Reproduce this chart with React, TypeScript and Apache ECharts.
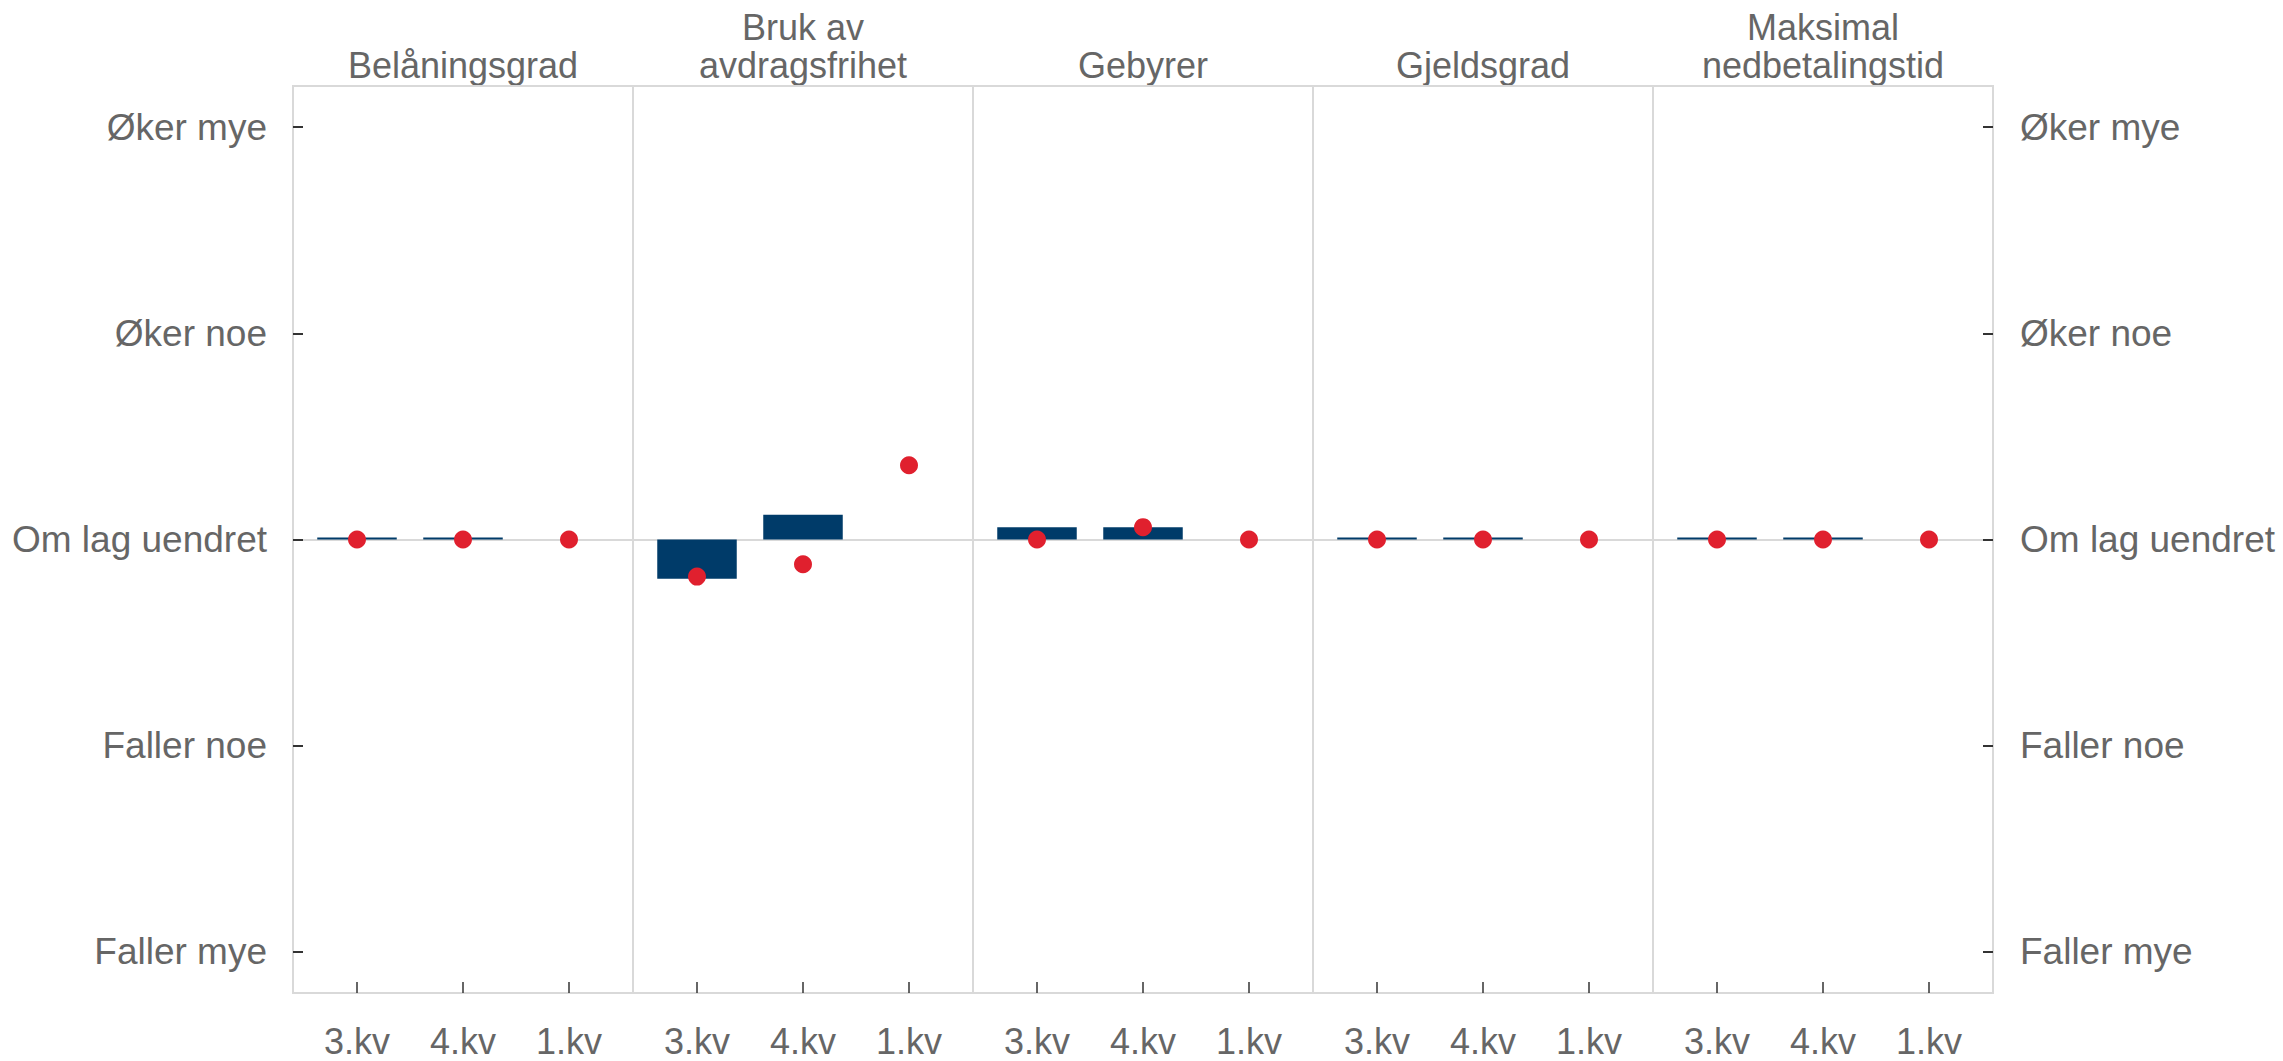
import React, { useEffect, useRef } from "react";
import * as echarts from "echarts";

// ---- Data ----
const quarters = ["3.kv", "4.kv", "1.kv"];
const panelTitles = [
  "Belåningsgrad",
  "Bruk av\navdragsfrihet",
  "Gebyrer",
  "Gjeldsgrad",
  "Maksimal\nnedbetalingstid",
];
const levelValues = [2, 1, 0, -1, -2];
const levelLabels = ["Øker mye", "Øker noe", "Om lag uendret", "Faller noe", "Faller mye"];

// Bars (dark blue)
const barsBelaningsgrad = [0, 0, null];
const barsAvdragsfrihet = [-0.19, 0.12, null];
const barsGebyrer = [0.06, 0.06, null];
const barsGjeldsgrad = [0, 0, null];
const barsNedbetalingstid = [0, 0, null];

// Dots (red)
const dotsBelaningsgrad = [0, 0, 0];
const dotsAvdragsfrihet = [-0.18, -0.12, 0.36];
const dotsGebyrer = [0, 0.06, 0];
const dotsGjeldsgrad = [0, 0, 0];
const dotsNedbetalingstid = [0, 0, 0];

const barData = [barsBelaningsgrad, barsAvdragsfrihet, barsGebyrer, barsGjeldsgrad, barsNedbetalingstid];
const dotData = [dotsBelaningsgrad, dotsAvdragsfrihet, dotsGebyrer, dotsGjeldsgrad, dotsNedbetalingstid];

// ---- Layout / style ----
const PANEL_LEFT = 293;
const PANEL_W = 340;
const TOP = 86;
const PLOT_H = 907;
const INSET = 11;
const Y_MIN = -2.2;
const Y_MAX = 2.2;
const FONT = 'Arial, "Liberation Sans", Helvetica, sans-serif';
const TEXT_COLOR = "#666666";
const GRID_COLOR = "#d9d9d9";
const TICK_COLOR = "#333333";
const BAR_COLOR = "#003b69";
const DOT_COLOR = "#e0202e";

function labelFor(v: number) {
  const idx = levelValues.indexOf(Math.round(v));
  return idx >= 0 ? levelLabels[idx] : "";
}

export default function App() {
  const ref = useRef<HTMLDivElement>(null);

  useEffect(() => {
    if (!ref.current) return;
    const chart = echarts.init(ref.current, undefined, { renderer: "svg" });
    const n = panelTitles.length;

    const grids: any[] = [];
    const xAxes: any[] = [];
    const yAxes: any[] = [];
    const series: any[] = [];
    const graphics: any[] = [];

    // data grids 0..n-1
    for (let i = 0; i < n; i++) {
      grids.push({
        left: PANEL_LEFT + PANEL_W * i + INSET,
        top: TOP,
        width: PANEL_W - 2 * INSET,
        height: PLOT_H,
        show: false,
      });
      xAxes.push({
        gridIndex: i,
        type: "category",
        data: quarters,
        position: "bottom",
        axisLine: { show: false, onZero: false },
        axisTick: {
          show: true,
          inside: true,
          alignWithLabel: true,
          length: 11,
          lineStyle: { color: TICK_COLOR, width: 1.5 },
        },
        axisLabel: { fontSize: 36, fontFamily: FONT, color: TEXT_COLOR, margin: 30 },
        splitLine: { show: false },
      });
      yAxes.push({
        gridIndex: i,
        type: "value",
        min: Y_MIN,
        max: Y_MAX,
        show: false,
      });
      series.push({
        type: "bar",
        xAxisIndex: i,
        yAxisIndex: i,
        data: barData[i],
        barWidth: "75%",
        barMinHeight: 2,
        itemStyle: { color: BAR_COLOR },
        z: 2,
      });
      series.push({
        type: "scatter",
        xAxisIndex: i,
        yAxisIndex: i,
        data: dotData[i],
        symbol: "circle",
        symbolSize: 18,
        itemStyle: { color: DOT_COLOR, opacity: 1 },
        z: 3,
      });
      graphics.push({
        type: "text",
        x: PANEL_LEFT + PANEL_W * (i + 0.5),
        y: 84,
        style: {
          text: panelTitles[i],
          fontSize: 36,
          fontFamily: FONT,
          fill: TEXT_COLOR,
          textAlign: "center",
          textVerticalAlign: "bottom",
          align: "center",
          verticalAlign: "bottom",
          lineHeight: 38,
        },
      });
    }

    // frame grids n..2n-1
    for (let i = 0; i < n; i++) {
      const g = n + i;
      grids.push({
        left: PANEL_LEFT + PANEL_W * i,
        top: TOP,
        width: PANEL_W,
        height: PLOT_H,
        show: true,
        borderColor: GRID_COLOR,
        borderWidth: 2,
        backgroundColor: "transparent",
        z: 0,
      });
      xAxes.push({ gridIndex: g, type: "value", min: 0, max: 1, show: false });
      yAxes.push({
        gridIndex: g,
        type: "value",
        min: Y_MIN,
        max: Y_MAX,
        interval: 2.2,
        axisLine: { show: false },
        axisTick: { show: false },
        axisLabel: { show: false },
        splitLine: { show: true, lineStyle: { color: GRID_COLOR, width: 2 } },
      });
    }

    const labelAxis = (gridIndex: number, position: string, margin: number) => ({
      gridIndex,
      type: "value",
      position,
      min: Y_MIN,
      max: Y_MAX,
      axisLine: { show: false },
      axisTick: {
        show: true,
        inside: true,
        length: 10,
        customValues: levelValues,
        lineStyle: { color: TICK_COLOR, width: 2 },
      },
      axisLabel: {
        show: true,
        customValues: levelValues,
        formatter: (v: number) => labelFor(v),
        fontSize: 37,
        fontFamily: FONT,
        color: TEXT_COLOR,
        margin,
      },
      splitLine: { show: false },
    });
    yAxes.push(labelAxis(n, "left", 26));
    yAxes.push(labelAxis(2 * n - 1, "right", 27));

    chart.setOption({
      animation: false,
      backgroundColor: "#ffffff",
      grid: grids,
      xAxis: xAxes,
      yAxis: yAxes,
      series,
      graphic: { elements: graphics },
    });

    return () => chart.dispose();
  }, []);

  return (
    <div
      ref={ref}
      style={{ position: "fixed", left: 0, top: 0, width: 2283, height: 1061, background: "#fff" }}
    />
  );
}
